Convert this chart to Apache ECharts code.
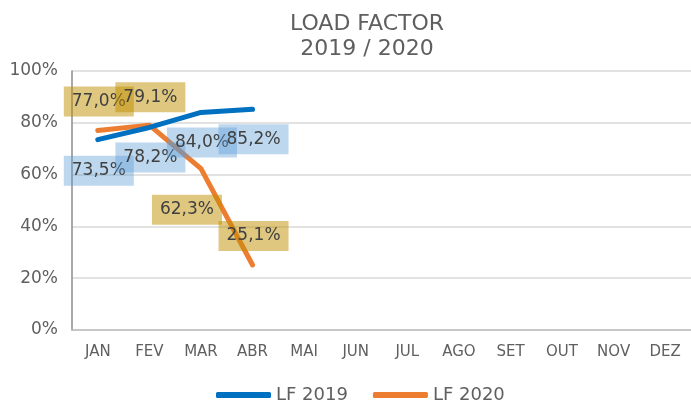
<!DOCTYPE html>
<html><head><meta charset="utf-8">
<script src="https://cdn.jsdelivr.net/npm/echarts@6/dist/echarts.min.js"></script>
<style>html,body{margin:0;padding:0;background:#fff}#c{width:691px;height:403px}</style>
</head><body><div id="c"></div>
<script>
var categories = ['JAN','FEV','MAR','ABR','MAI','JUN','JUL','AGO','SET','OUT','NOV','DEZ'];
var lf2019 = [73.5, 78.2, 84.0, 85.2];
var lf2020 = [77.0, 79.1, 62.3, 25.1];
var yTicks = [0, 20, 40, 60, 80, 100];

var FONT = '"DejaVu Sans", sans-serif';
// label box centre relative to the point (pixels)
var pos2019 = [[1,31],[1,30],[1,30],[1,30]];
var pos2020 = [[1,-29],[1,-28],[-14,41],[1,-29]];

function build(vals, pos) {
  return vals.map(function(v, i){
    return {value: v, label: {position: pos[i]}};
  });
}
function fmt(p){ return p.value.toFixed(1).replace('.', ',') + '%'; }

var chart = echarts.init(document.getElementById('c'), null, {renderer:'canvas'});
chart.setOption({
  animation: false,
  title: {
    text: 'LOAD FACTOR\n2019 / 2020',
    left: 362, top: 7, textAlign: 'center',
    textStyle: {fontFamily: FONT, fontSize: 22, fontWeight: 'normal', color: '#5f5f5f', lineHeight: 25}
  },
  legend: {
    left: 211, top: 381,
    itemWidth: 55, itemHeight: 6, itemGap: 25,
    icon: 'roundRect',
    textStyle: {fontFamily: FONT, fontSize: 18, color: '#5f5f5f'},
    data: ['LF 2019', 'LF 2020']
  },
  grid: {left: 72, right: -2, top: 71, bottom: 73, containLabel: false},
  xAxis: {
    type: 'category', data: categories, boundaryGap: true,
    axisLine: {lineStyle: {color: '#bfbfbf', width: 1.5}},
    axisTick: {show: false},
    axisLabel: {fontFamily: FONT, fontSize: 15, color: '#5f5f5f', margin: 15}
  },
  yAxis: {
    type: 'value', min: yTicks[0], max: yTicks[yTicks.length-1], interval: 20,
    axisLine: {show: true, lineStyle: {color: '#8c8c8c', width: 1.5}},
    axisTick: {show: false},
    splitLine: {lineStyle: {color: '#d9d9d9', width: 1.5}},
    axisLabel: {fontFamily: FONT, fontSize: 17, color: '#5f5f5f', margin: 14, formatter: '{value}%'}
  },
  series: [
    {
      name: 'LF 2019', type: 'line', data: build(lf2019, pos2019),
      symbol: 'circle', symbolSize: 0, showSymbol: true, color: '#0070c0',
      lineStyle: {width: 5, color: '#0070c0', cap: 'round', join: 'round'},
      label: {show: true, formatter: fmt, align: 'center', verticalAlign: 'middle',
        fontFamily: FONT, fontSize: 17, color: '#404040',
        backgroundColor: 'rgba(91,155,213,0.4)', width: 54, padding: [6,8,6,8], lineHeight: 18},
      labelLayout: {hideOverlap: false},
      z: 3
    },
    {
      name: 'LF 2020', type: 'line', data: build(lf2020, pos2020),
      symbol: 'circle', symbolSize: 0, showSymbol: true, color: '#ed7d31',
      lineStyle: {width: 5, color: '#ed7d31', cap: 'round', join: 'round'},
      label: {show: true, formatter: fmt, align: 'center', verticalAlign: 'middle',
        fontFamily: FONT, fontSize: 17, color: '#404040',
        backgroundColor: 'rgba(191,144,0,0.5)', width: 54, padding: [6,8,6,8], lineHeight: 18},
      labelLayout: {hideOverlap: false},
      z: 2
    }
  ]
});
</script></body></html>
